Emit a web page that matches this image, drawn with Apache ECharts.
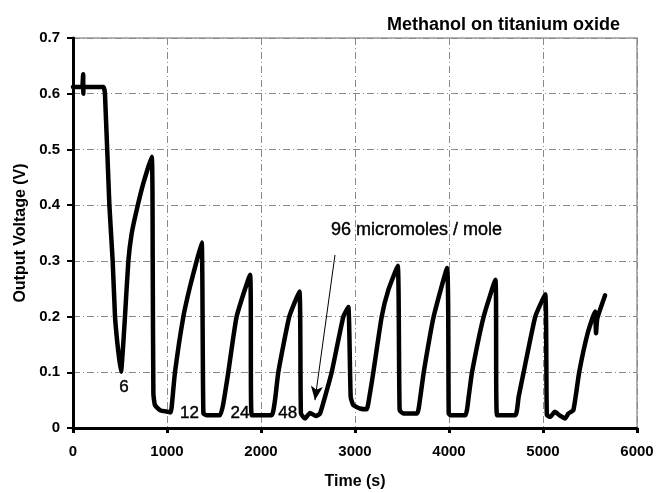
<!DOCTYPE html>
<html>
<head>
<meta charset="utf-8">
<script src="https://cdn.jsdelivr.net/npm/echarts@6/dist/echarts.min.js"></script>
<style>html,body{margin:0;padding:0;background:#fff;}#c{width:664px;height:493px;}</style>
</head>
<body>
<div id="c"></div>
<script>
const titleText = 'Methanol on titanium oxide';
const xAxisName = 'Time (s)';
const yAxisName = 'Output Voltage (V)';

// Trace: time (s) and output voltage (V)
const timeS = [0, 100, 106, 108, 110, 112, 323, 340, 387, 422, 447, 472, 493, 511,
  535, 553, 589, 624, 677, 748, 837, 848, 855, 872, 926, 1014, 1040, 1050, 1085, 1174, 1245, 1316, 1369,
  1387, 1422, 1564, 1599, 1652, 1741, 1883,
  1901, 2113, 2149, 2184, 2301, 2408,
  2425, 2468, 2521, 2585, 2628, 2681, 2752, 2876, 2929,
  2954, 2982, 3053, 3124, 3153, 3195, 3284, 3355, 3454,
  3475, 3516, 3660, 3695, 3731, 3837, 3979,
  3997, 4014, 4174, 4209, 4245, 4369, 4493,
  4511, 4706, 4741, 4794, 4918, 5023,
  5041, 5076, 5126, 5174, 5235, 5270, 5323, 5385, 5475, 5553, 5564, 5578, 5660];
const voltage = [0.612, 0.612, 0.612, 0.635, 0.600, 0.612, 0.612, 0.600, 0.400, 0.300, 0.200, 0.152, 0.122, 0.101,
  0.152, 0.200, 0.300, 0.349, 0.391, 0.439, 0.487, 0.300, 0.062, 0.041, 0.032, 0.029, 0.028, 0.038, 0.100, 0.200, 0.254, 0.300, 0.333,
  0.026, 0.023, 0.023, 0.044, 0.100, 0.200, 0.275,
  0.023, 0.023, 0.050, 0.100, 0.200, 0.245,
  0.026, 0.017, 0.027, 0.0215, 0.026, 0.056, 0.100, 0.200, 0.217,
  0.056, 0.041, 0.035, 0.0335, 0.056, 0.100, 0.200, 0.248, 0.291,
  0.032, 0.026, 0.026, 0.056, 0.100, 0.200, 0.287,
  0.026, 0.023, 0.023, 0.056, 0.100, 0.200, 0.266,
  0.023, 0.023, 0.056, 0.100, 0.200, 0.240,
  0.023, 0.020, 0.029, 0.023, 0.017, 0.026, 0.032, 0.100, 0.170, 0.209, 0.170, 0.197, 0.238];

// Concentration annotations
const noteTimes = [543, 1239, 1777, 2284];
const noteValues = [0.0727, 0.0255, 0.0255, 0.0255];
const noteTexts = ['6', '12', '24', '48'];

const calloutText = '96 micromoles / mole';
const calloutPos = [2745, 0.355];
const arrowFrom = [2787, 0.3105];
const arrowTo = [2574, 0.050];

const xTicks = [0, 1000, 2000, 3000, 4000, 5000, 6000];
const yTicks = [0, 0.1, 0.2, 0.3, 0.4, 0.5, 0.6, 0.7];

const FONT = '"Liberation Sans", Arial, sans-serif';
const traceData = timeS.map((t, i) => [t, voltage[i]]);
const noteData = noteTimes.map((t, i) => [t, noteValues[i], noteTexts[i]]);

const chart = echarts.init(document.getElementById('c'), null, {renderer: 'canvas'});
const gridLine = {show: true, lineStyle: {color: '#8a8a8a', width: 1, type: [7, 3, 1, 3]}};
const textLabel = {fontFamily: FONT, color: '#000', opacity: 1, textBorderColor: '#000', textBorderWidth: 0.4, textShadowBlur: 0};
chart.setOption({
  animation: false,
  backgroundColor: '#fff',
  title: {
    text: titleText, right: 39, top: 11,
    textStyle: {fontFamily: FONT, fontSize: 18, fontWeight: 'bold', color: '#000'}
  },
  grid: {left: 73, right: 27, top: 38, bottom: 65, containLabel: false, outerBoundsMode: 'none',
    show: true, borderColor: '#9a9a9a', borderWidth: 1.5, backgroundColor: 'transparent'},
  xAxis: {
    type: 'value', min: xTicks[0], max: xTicks[xTicks.length - 1], interval: 1000,
    name: xAxisName, nameLocation: 'middle', nameGap: 46,
    nameTextStyle: {fontFamily: FONT, fontSize: 16, fontWeight: 'bold', color: '#000'},
    axisLine: {show: true, onZero: false, lineStyle: {color: '#000', width: 3}},
    axisTick: {show: true, inside: false, length: 5, lineStyle: {color: '#000', width: 3}},
    axisLabel: {margin: 16, fontFamily: FONT, fontSize: 15, fontWeight: 'bold', color: '#000',
      formatter: v => String(v)},
    splitLine: gridLine
  },
  yAxis: {
    type: 'value', min: yTicks[0], max: yTicks[yTicks.length - 1], interval: 0.1,
    name: yAxisName, nameLocation: 'middle', nameGap: 44,
    nameTextStyle: {fontFamily: FONT, fontSize: 16, fontWeight: 'bold', color: '#000'},
    axisLine: {show: true, lineStyle: {color: '#000', width: 3}},
    axisTick: {show: true, inside: false, length: 6, lineStyle: {color: '#000', width: 2}},
    axisLabel: {margin: 13, fontFamily: FONT, fontSize: 15, fontWeight: 'bold', color: '#000',
      formatter: v => (v === 0 ? '0' : v.toFixed(1))},
    splitLine: gridLine
  },
  series: [
    {
      type: 'line', data: traceData, showSymbol: false, symbol: 'none', smooth: 0.15,
      lineStyle: {color: '#000', width: 4.5, join: 'round', cap: 'round'},
      z: 3,
      markLine: {
        silent: true, symbol: ['none', 'arrow'], symbolSize: [9, 14],
        label: {show: false},
        lineStyle: {color: '#000', width: 1, type: 'solid'},
        data: [[{coord: arrowFrom}, {coord: arrowTo}]]
      }
    },
    {
      type: 'scatter', data: noteData, symbolSize: 0, silent: true,
      itemStyle: {color: '#000', opacity: 1},
      label: Object.assign({show: true, position: 'inside', formatter: p => p.data[2], fontSize: 17}, textLabel),
      z: 4
    },
    {
      type: 'scatter', data: [[calloutPos[0], calloutPos[1], calloutText]], symbolSize: 0, silent: true,
      itemStyle: {color: '#000', opacity: 1},
      label: Object.assign({show: true, position: 'right', distance: 0, formatter: p => p.data[2], fontSize: 18}, textLabel),
      z: 4
    }
  ]
});
</script>
</body>
</html>
